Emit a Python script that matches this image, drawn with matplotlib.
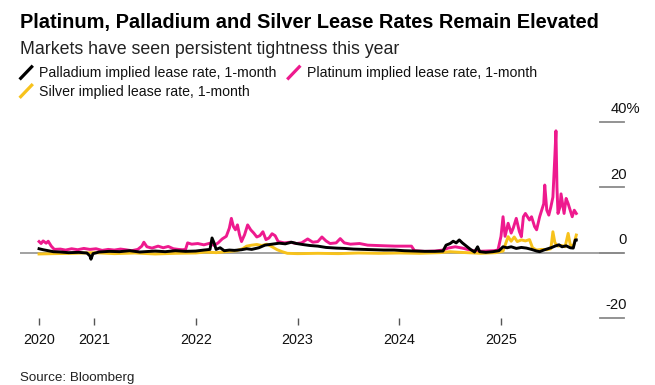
import numpy as np
import matplotlib
matplotlib.use('Agg')
import matplotlib.pyplot as plt
import matplotlib.transforms as mtransforms
from matplotlib.lines import Line2D

plt.rcParams['font.family'] = ['Liberation Sans', 'DejaVu Sans']

# dates in decimal years, rates in %
pd_t = [2020.46, 2020.50, 2020.55, 2020.60, 2020.67, 2020.75, 2020.85, 2020.93, 2020.96, 2020.97,
        2020.99, 2021.05, 2021.15, 2021.25, 2021.35, 2021.45, 2021.50, 2021.60, 2021.70, 2021.80,
        2021.90, 2022.00, 2022.08, 2022.14, 2022.16, 2022.18, 2022.20, 2022.24, 2022.28, 2022.33,
        2022.38, 2022.45, 2022.50, 2022.55, 2022.62, 2022.68, 2022.75, 2022.82, 2022.88, 2022.94,
        2022.99, 2023.05, 2023.12, 2023.20, 2023.28, 2023.38, 2023.46, 2023.55, 2023.65, 2023.75,
        2023.85, 2023.95, 2024.05, 2024.15, 2024.25, 2024.35, 2024.43, 2024.46, 2024.50, 2024.53,
        2024.56, 2024.59, 2024.62, 2024.66, 2024.70, 2024.74, 2024.77, 2024.79, 2024.85, 2024.92,
        2024.98, 2025.02, 2025.06, 2025.10, 2025.15, 2025.20, 2025.25, 2025.30, 2025.35, 2025.38,
        2025.42, 2025.46, 2025.50, 2025.53, 2025.57, 2025.60, 2025.64, 2025.68, 2025.71, 2025.73,
        2025.74]
pd_v = [1.2, 0.9, 0.6, 0.3, 0.2, 0.0, 0.1, -0.1, -1.0, -2.0,
        -0.3, 0.2, 0.4, 0.3, 0.6, 0.2, 0.3, 0.5, 0.3, 0.6,
        0.4, 0.5, 0.8, 1.0, 4.5, 3.0, 1.0, 1.5, 0.6, 0.8,
        0.7, 0.9, 1.2, 1.0, 1.5, 2.3, 2.6, 2.9, 2.7, 3.2,
        2.8, 2.5, 2.2, 2.0, 1.6, 1.4, 1.3, 1.1, 1.0, 0.9,
        0.8, 0.8, 0.6, 0.5, 0.4, 0.4, 0.5, 2.3, 2.8, 3.5,
        3.0, 3.9, 3.0, 2.0, 1.0, 0.2, 1.8, 0.3, 0.1, 0.3,
        0.6, 1.8, 1.5, 1.8, 1.3, 1.6, 1.4, 1.0, 0.5, 0.3,
        0.8, 1.2, 1.6, 2.0, 2.4, 1.8, 2.1, 1.5, 1.4, 3.9,
        3.9]

pt_t = [2020.46, 2020.48, 2020.50, 2020.53, 2020.55, 2020.58, 2020.61, 2020.67, 2020.72, 2020.78,
        2020.84, 2020.90, 2020.96, 2021.02, 2021.08, 2021.14, 2021.20, 2021.26, 2021.31, 2021.37,
        2021.43, 2021.47, 2021.49, 2021.52, 2021.57, 2021.63, 2021.68, 2021.73, 2021.78, 2021.83,
        2021.87, 2021.90, 2021.92, 2021.96, 2022.02, 2022.08, 2022.14, 2022.18, 2022.22, 2022.26,
        2022.30, 2022.33, 2022.35, 2022.37, 2022.39, 2022.41, 2022.43, 2022.45, 2022.48, 2022.51,
        2022.54, 2022.57, 2022.60, 2022.63, 2022.66, 2022.69, 2022.72, 2022.75, 2022.78, 2022.81,
        2022.87, 2022.93, 2022.99, 2023.04, 2023.10, 2023.15, 2023.20, 2023.24, 2023.28, 2023.32,
        2023.38, 2023.42, 2023.46, 2023.52, 2023.57, 2023.61, 2023.69, 2023.77, 2023.86, 2023.96,
        2024.06, 2024.12, 2024.15, 2024.25, 2024.35, 2024.43, 2024.48, 2024.55, 2024.62, 2024.70,
        2024.77, 2024.85, 2024.93, 2024.97, 2025.00, 2025.02, 2025.04, 2025.07, 2025.10, 2025.12,
        2025.15, 2025.18, 2025.20, 2025.22, 2025.24, 2025.28, 2025.30, 2025.33, 2025.35, 2025.38,
        2025.40, 2025.42, 2025.43, 2025.45, 2025.47, 2025.49, 2025.51, 2025.53, 2025.54, 2025.55,
        2025.56, 2025.58, 2025.59, 2025.61, 2025.62, 2025.64, 2025.66, 2025.68, 2025.70, 2025.72,
        2025.74]
pt_v = [3.4, 2.8, 3.6, 2.9, 3.5, 2.0, 1.0, 1.1, 0.8, 1.2,
        0.9, 1.3, 1.0, 1.2, 0.7, 1.0, 0.8, 1.1, 0.9, 0.6,
        1.0, 2.0, 3.2, 1.8, 1.4, 2.0, 1.5, 1.9, 1.2, 1.0,
        0.9, 1.0, 3.0, 2.6, 2.8, 2.4, 2.9, 2.2, 3.0, 4.2,
        5.0, 7.5, 10.5, 8.0, 7.0, 8.5, 5.5, 3.4, 5.5, 8.5,
        7.0, 6.0, 4.8, 5.2, 6.4, 4.0, 4.5, 5.8, 5.2, 3.4,
        3.0, 3.2, 2.8, 3.0, 4.2, 3.2, 3.4, 4.8, 3.6, 2.8,
        3.0, 4.3, 3.0, 2.6, 2.7, 2.8, 2.3, 2.2, 2.1, 2.0,
        2.0, 2.0, 0.6, 0.4, 0.5, 0.8, 1.4, 1.8, 1.4, 0.8,
        0.4, 0.5, 0.6, 0.8, 5.0, 11.0, 5.0, 9.0, 6.0, 7.5,
        10.5, 6.5, 4.9, 11.0, 12.0, 10.0, 11.0, 8.0, 7.0, 11.0,
        13.0, 15.0, 20.7, 13.0, 11.5, 14.0, 17.0, 30.0, 37.3, 20.0,
        12.0, 14.0, 18.0, 14.0, 12.0, 16.6, 15.0, 13.0, 11.0, 13.0,
        12.0]

ag_t = [2020.46, 2020.60, 2020.80, 2021.00, 2021.20, 2021.40, 2021.60, 2021.80, 2022.00, 2022.10,
        2022.20, 2022.30, 2022.40, 2022.46, 2022.50, 2022.55, 2022.60, 2022.65, 2022.70, 2022.75,
        2022.80, 2022.85, 2022.90, 2023.00, 2023.20, 2023.40, 2023.60, 2023.80, 2024.00, 2024.20,
        2024.40, 2024.50, 2024.60, 2024.80, 2024.95, 2025.02, 2025.07, 2025.10, 2025.13, 2025.16,
        2025.20, 2025.24, 2025.28, 2025.31, 2025.35, 2025.40, 2025.45, 2025.49, 2025.51, 2025.53,
        2025.56, 2025.60, 2025.63, 2025.66, 2025.68, 2025.71, 2025.74]
ag_v = [-0.4, -0.3, -0.2, 0.0, -0.3, -0.1, -0.4, -0.2, -0.1, 0.2,
        0.0, 0.3, 0.6, 1.2, 2.0, 2.3, 2.5, 2.2, 2.6, 1.8,
        0.9, 0.3, -0.2, -0.3, -0.2, -0.3, -0.1, -0.2, -0.1, -0.2,
        0.0, 0.3, 0.1, -0.2, 0.0, 0.5, 4.9, 3.5, 4.8, 3.4,
        3.9, 3.6, 4.0, 1.5, 0.8, 1.0, 0.9, 1.2, 6.4, 3.0,
        2.0, 2.2, 1.8, 5.9, 2.5, 1.8, 5.4]

labels = ['Palladium implied lease rate, 1-month',
          'Platinum implied lease rate, 1-month',
          'Silver implied lease rate, 1-month']
colors = ['#000000', '#ee1a8e', '#f7c21c']

year_ticks = [2021, 2022, 2023, 2024, 2025]
y_ticks = [40, 20, 0, -20]

W, H = 655, 385
def fx(px):
    return px / W
def fy(py):
    return 1 - py / H

fig = plt.figure(figsize=(W / 100, H / 100), dpi=100)
ax = fig.add_axes([fx(20), fy(318), (624 - 20) / W, (318 - 122) / H])

ax.axhline(0, color='#9a9a9a', lw=1.3, zorder=1)
ax.plot(pt_t, pt_v, color=colors[1], lw=2.1, zorder=2, solid_joinstyle='round')
ax.plot(ag_t, ag_v, color=colors[2], lw=2.1, zorder=3, solid_joinstyle='round')
ax.plot(pd_t, pd_v, color=colors[0], lw=2.1, zorder=4, solid_joinstyle='round')

ax.set_xlim(2021 + (20 - 94) / 101.75, 2021 + (624 - 94) / 101.75)
ax.set_ylim(-20, 40)
for s in ax.spines.values():
    s.set_visible(False)

ax.set_xticks([pd_t[0]] + year_ticks, ['2020'] + [str(y) for y in year_ticks])
ax.tick_params(axis='x', length=5, width=1, color='#555555', pad=5.5,
               labelsize=10.4, labelcolor='#111111')
ax.set_yticks([])

# short gridlines and labels on the right
trans = mtransforms.blended_transform_factory(ax.transAxes, ax.transData)
lab_trans = mtransforms.offset_copy(trans, fig=fig, y=6.3, units='points')
for v in y_ticks:
    ax.plot([0.96, 1.0], [v, v], transform=trans, color='#8a8a8a', lw=1.3, clip_on=False)
    txt = str(v) + ('%' if v == y_ticks[0] else '')
    xpos = 1.027 if v == y_ticks[0] else 1.004
    ax.text(xpos, v, txt, transform=lab_trans, ha='right', va='baseline',
            fontsize=10.6, color='#111111')

# titles
fig.text(fx(20), fy(28.3), 'Platinum, Palladium and Silver Lease Rates Remain Elevated',
         fontsize=14.45, fontweight='bold', va='baseline', color='#000000')
fig.text(fx(20), fy(54), 'Markets have seen persistent tightness this year',
         fontsize=12.75, va='baseline', color='#222222')

# legend
leg_pos = [(20.7, 78.3), (288.3, 78.3), (20.7, 96.7)]
for (x0, y0), lab, c in zip(leg_pos, labels, colors):
    fig.add_artist(Line2D([fx(x0), fx(x0 + 11)], [fy(y0), fy(y0 - 11.5)],
                          color=c, lw=2.3, transform=fig.transFigure))
    fig.text(fx(x0 + 18.5), fy(y0 - 1), lab, fontsize=10.2, va='baseline', color='#111111')

fig.text(fx(20), fy(381), 'Source: Bloomberg', fontsize=9.6, va='baseline', color='#222222')

fig.savefig('out.png', dpi=100)
